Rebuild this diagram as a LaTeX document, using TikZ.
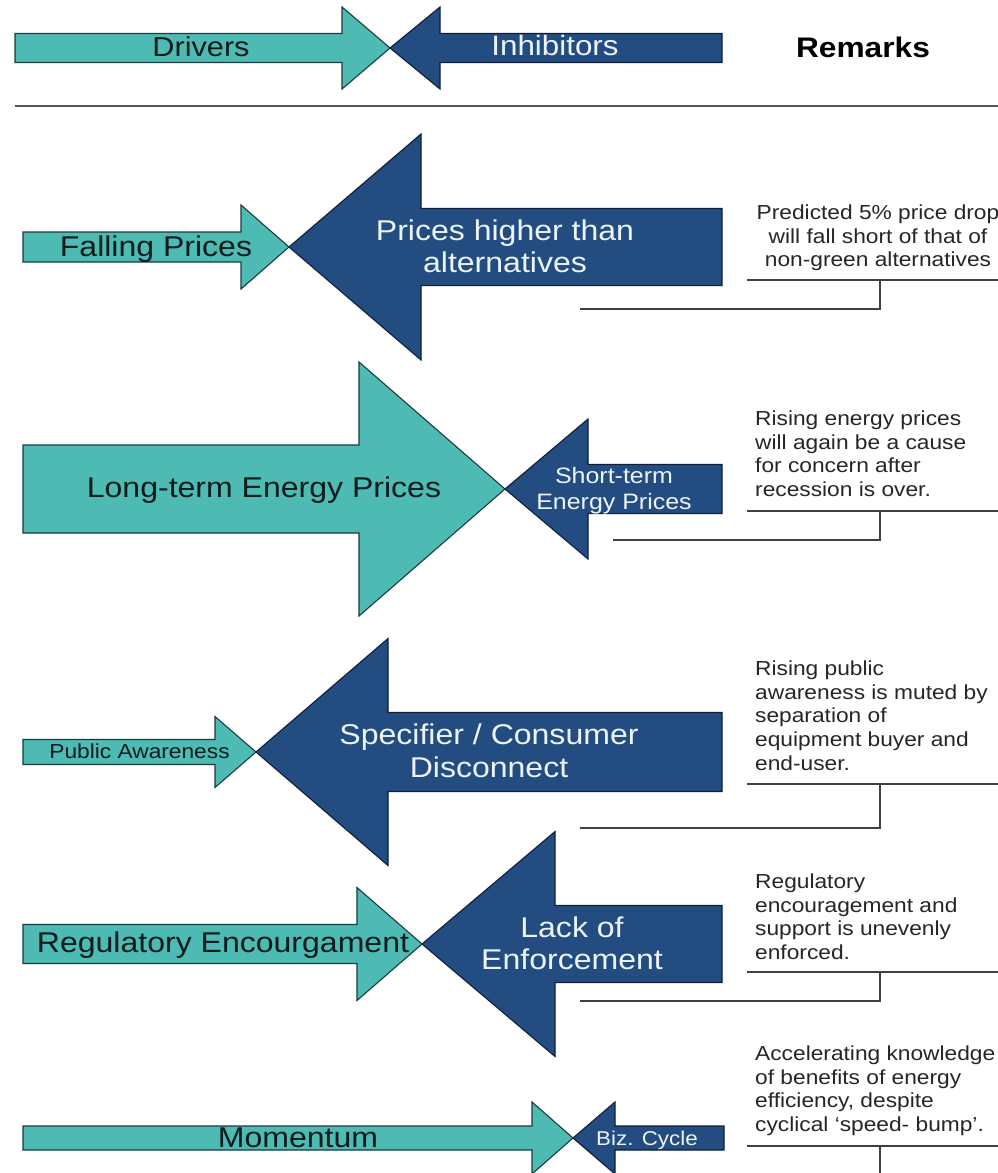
\documentclass[tikz,border=0pt]{standalone}
\usepackage{fontspec}
\setmainfont{Liberation Sans}[FakeStretch=1.12]
\definecolor{drvfill}{RGB}{78,186,180}
\definecolor{inhfill}{RGB}{35,77,128}
\definecolor{drvline}{RGB}{25,60,60}
\definecolor{inhline}{RGB}{15,30,60}
\definecolor{drvtext}{RGB}{12,28,28}
\definecolor{inhtext}{RGB}{236,243,250}
\definecolor{rulegray}{RGB}{85,85,85}
\begin{document}
\begin{tikzpicture}[x=1pt,y=-1pt,
  drvarrow/.style={fill=drvfill,draw=drvline,line width=1.1pt,line join=miter},
  inharrow/.style={fill=inhfill,draw=inhline,line width=1.1pt,line join=miter},
  oneline/.style={inner sep=0pt,anchor=base},
  bigfont/.style={font=\fontsize{28.6}{32.5}\selectfont},
  drvlabel/.style={oneline,bigfont,text=drvtext},
  inhlabel/.style={inner sep=0pt,bigfont,text=inhtext,align=center},
  remark/.style={inner sep=0pt,font=\fontsize{20.3}{23.7}\selectfont,text=black!85,anchor=north west,align=left},
  bracket/.style={draw=black!75,line width=1.8pt},
]
\useasboundingbox (0,0) rectangle (998,1173);
\fill[white] (0,0) rectangle (998,1173);
\newcommand{\arrowshape}[7]{%
  \draw[#1] (#2,#5-#6) -- (#3,#5-#6) -- (#3,#5-#7) -- (#4,#5) -- (#3,#5+#7) -- (#3,#5+#6) -- (#2,#5+#6) -- cycle;}

% ---------- header ----------
\arrowshape{drvarrow}{15}{342}{390}{48}{14.5}{41}
\arrowshape{inharrow}{722}{440}{390}{48}{14.5}{41}
\node[oneline,font=\fontsize{27.4}{30}\selectfont,text=drvtext] (hdrv) at (201,56.3) {Drivers};
\node[oneline,font=\fontsize{28}{30}\selectfont,text=inhtext] (hinh) at (555,55.5) {Inhibitors};
\node[oneline,font=\fontsize{28.3}{30}\selectfont\bfseries,text=black] (hrem) at (863,57.1) {Remarks};
\coordinate (ruleL) at (15,106);
\coordinate (ruleR) at (998,106);
\draw[draw=rulegray,line width=2pt] (ruleL) -- (ruleR);

% ---------- row 1 ----------
\arrowshape{drvarrow}{23}{241}{289}{247}{15}{42}
\arrowshape{inharrow}{722}{421}{289}{247}{38.5}{113}
\node[drvlabel] (d1) at (156,256.7) {Falling Prices};
\node[inhlabel] (i1) at (505,246.5) {Prices higher than\\alternatives};
\node[remark,anchor=north,align=center] (r1) at (878,204.5) {Predicted 5\% price drop\\will fall short of that of\\non-green alternatives};
\coordinate (r1a) at (747,280); \coordinate (r1b) at (998,280);
\coordinate (r1c) at (880,280); \coordinate (r1d) at (880,309); \coordinate (r1e) at (580,309);
\draw[bracket] (r1a) -- (r1b);
\draw[bracket] (r1c) -- (r1d) -- (r1e);

% ---------- row 2 ----------
\arrowshape{drvarrow}{23}{359}{505}{489}{44}{127}
\arrowshape{inharrow}{722}{588}{505}{489}{24.5}{70}
\node[drvlabel] (d2) at (264,497.7) {Long-term Energy Prices};
\node[inhlabel,font=\fontsize{22.3}{26}\selectfont] (i2) at (614,491) {Short-term\\Energy Prices};
\node[remark] (r2) at (755,410.5) {Rising energy prices\\will again be a cause\\for concern after\\recession is over.};
\coordinate (r2a) at (747,511); \coordinate (r2b) at (998,511);
\coordinate (r2c) at (880,511); \coordinate (r2d) at (880,540); \coordinate (r2e) at (613,540);
\draw[bracket] (r2a) -- (r2b);
\draw[bracket] (r2c) -- (r2d) -- (r2e);

% ---------- row 3 ----------
\arrowshape{drvarrow}{23}{215}{256}{752}{12.5}{35.5}
\arrowshape{inharrow}{722}{388}{256}{752}{39.5}{113.5}
\node[oneline,font=\fontsize{20.3}{24}\selectfont,text=drvtext] (d3) at (139.5,758.8) {Public Awareness};
\node[inhlabel,font=\fontsize{28.6}{33}\selectfont] (i3) at (489,750.5) {Specifier / Consumer\\Disconnect};
\node[remark] (r3) at (755,660.5) {Rising public\\awareness is muted by\\separation of\\equipment buyer and\\end-user.};
\coordinate (r3a) at (747,784); \coordinate (r3b) at (998,784);
\coordinate (r3c) at (880,784); \coordinate (r3d) at (880,828); \coordinate (r3e) at (580,828);
\draw[bracket] (r3a) -- (r3b);
\draw[bracket] (r3c) -- (r3d) -- (r3e);

% ---------- row 4 ----------
\arrowshape{drvarrow}{23}{357}{422}{944}{19.5}{56.5}
\arrowshape{inharrow}{722}{555}{422}{944}{38.5}{112.5}
\node[drvlabel] (d4) at (223,952.7) {Regulatory Encourgament};
\node[inhlabel,font=\fontsize{28.6}{32}\selectfont] (i4) at (572,943) {Lack of\\Enforcement};
\node[remark] (r4) at (755,873.5) {Regulatory\\encouragement and\\support is unevenly\\enforced.};
\coordinate (r4a) at (747,972); \coordinate (r4b) at (998,972);
\coordinate (r4c) at (880,972); \coordinate (r4d) at (880,1001); \coordinate (r4e) at (580,1001);
\draw[bracket] (r4a) -- (r4b);
\draw[bracket] (r4c) -- (r4d) -- (r4e);

% ---------- row 5 ----------
\arrowshape{drvarrow}{23}{532}{573}{1138}{12}{36}
\arrowshape{inharrow}{724}{615}{573}{1138}{12}{36}
\node[drvlabel] (d5) at (298,1147.2) {Momentum};
\node[oneline,font=\fontsize{20}{24}\selectfont,text=inhtext] (i5) at (647,1145.2) {Biz. Cycle};
\node[remark] (r5) at (755,1045.5) {Accelerating knowledge\\of benefits of energy\\efficiency, despite\\cyclical `speed- bump'.};
\coordinate (r5a) at (747,1146); \coordinate (r5b) at (998,1146);
\coordinate (r5c) at (880,1146); \coordinate (r5d) at (880,1175);
\draw[bracket] (r5a) -- (r5b);
\draw[bracket] (r5c) -- (r5d);
\end{tikzpicture}
\end{document}
